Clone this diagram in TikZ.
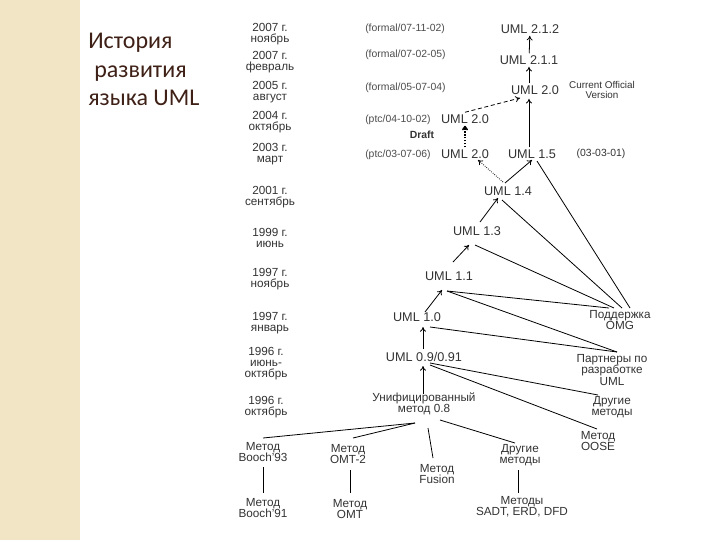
\documentclass[tikz,border=0pt]{standalone}
\usepackage{fontspec}
\setmainfont{Liberation Sans}
\newfontfamily\titlefont{Carlito}
\usepackage{tikz}
\usetikzlibrary{arrows.meta,calc}
\definecolor{stripbeige}{RGB}{241,229,198}
\definecolor{titlebrown}{RGB}{62,32,22}

\begin{document}
\begin{tikzpicture}[x=0.75pt,y=-0.75pt,>={To[length=3.5pt,width=4.5pt]},
  lbl/.style={align=center,inner sep=0pt,text=black!80,font=\fontsize{8.8}{8.3}\selectfont},
  uml/.style={inner sep=1.5pt,text=black!80,font=\fontsize{9.5}{10}\selectfont},
  ref/.style={anchor=west,inner sep=0pt,text=black!70,font=\fontsize{7.8}{9}\selectfont},
  link/.style={line width=0.6pt}]
\fill[stripbeige] (0,0) rectangle (80,540);
\fill[white] (80,0) rectangle (720,540);
\useasboundingbox (0,0) rectangle (720,540);
\node[anchor=north west,align=left,inner sep=0pt,text=titlebrown,
  font=\titlefont\fontsize{18}{21.4}\selectfont] (title) at (88,33)
  {История\\\hspace{0.25em}развития\\языка UML};
\node[lbl] (dNov07) at (270,34.5) {2007 г.\\ноябрь};
\node[lbl] (dFeb07) at (270,62) {2007 г.\\февраль};
\node[lbl] (dAug05) at (270,92) {2005 г.\\август};
\node[lbl] (dOct04) at (270,122) {2004 г.\\октябрь};
\node[lbl] (dMar03) at (270,154) {2003 г.\\март};
\node[lbl] (dSep01) at (270,197.5) {2001 г.\\сентябрь};
\node[lbl] (dJun99) at (270,238) {1999 г.\\июнь};
\node[lbl] (dNov97) at (270,279) {1997 г.\\ноябрь};
\node[lbl] (dJan97) at (270,323) {1997 г.\\январь};
\node[lbl] (dJun96) at (266,364) {1996 г.\\июнь-\\октябрь};
\node[lbl] (dOct96) at (266,407) {1996 г.\\октябрь};
\node[ref] (rNov07) at (365,28.5) {(formal/07-11-02)};
\node[ref] (rFeb07) at (365,55) {(formal/07-02-05)};
\node[ref] (rAug05) at (365,88) {(formal/05-07-04)};
\node[ref] (rOct04) at (365,120) {(ptc/04-10-02)};
\node[ref] (rMar03) at (365,155) {(ptc/03-07-06)};
\node[uml] (u212) at (530,29) {UML 2.1.2};
\node[uml] (u211) at (529,60) {UML 2.1.1};
\node[uml] (u20) at (535,90) {UML 2.0};
\node[lbl,font=\fontsize{7.4}{7.5}\selectfont] (cur) at (602,90) {Current Official\\Version};
\node[uml] (u20d) at (465,119) {UML 2.0};
\node[lbl,font=\bfseries\fontsize{7.8}{9}\selectfont] (draft) at (422,135) {Draft};
\node[uml] (u20b) at (465,154) {UML 2.0};
\node[uml] (u15) at (532,154) {UML 1.5};
\node[lbl,font=\fontsize{7.8}{9}\selectfont] (r0303) at (601,154) {(03-03-01)};
\node[uml] (u14) at (508,191) {UML 1.4};
\node[uml] (u13) at (477,231) {UML 1.3};
\node[uml] (u11) at (449,276) {UML 1.1};
\node[uml] (u10) at (417,317) {UML 1.0};
\node[uml] (u09) at (424,357) {UML 0.9/0.91};
\node[lbl] (um08) at (424,404) {Унифицированный\\метод 0.8};
\node[lbl] (omg) at (620,320) {Поддержка\\OMG};
\node[lbl] (partn) at (612,370) {Партнеры по\\разработке\\UML};
\node[lbl] (othR) at (612,407) {Другие\\методы};
\node[lbl] (oose) at (598,441) {Метод\\OOSE};
\node[lbl] (booch93) at (263,452) {Метод\\Booch'93};
\node[lbl] (omt2) at (348,454) {Метод\\OMT-2};
\node[lbl] (fusion) at (437,474) {Метод\\Fusion};
\node[lbl] (othM) at (520,455) {Другие\\методы};
\node[lbl] (booch91) at (263,508) {Метод\\Booch'91};
\node[lbl] (omt) at (350,509) {Метод\\OMT};
\node[lbl] (sadt) at (522,507) {Методы\\SADT, ERD, DFD};
\draw[link,->] (u211) -- (u212);
\draw[link,->] ($(u20.north)+(-6,0)$) -- (u211.south);
\draw[link,->] ($(u15.north)+(-3,0)$) -- ($(u20.south)+(-6,2)$);
\draw[line width=1.2pt,densely dotted,->] (u20b.north) -- (u20d.south);
\draw[link,densely dashed,->] (u20d.north) -- ($(u20)+(-15,8)$);
\draw[link,densely dotted,->] ($(u14)+(-5,-9)$) -- ($(u20b)+(13,6)$);
\draw[link,->] ($(u14)+(-3,-8)$) -- ($(u15)+(0,6)$);
\draw[link,->] ($(u13)+(3,-9)$) -- ($(u14)+(-10,7)$);
\draw[link,->] ($(u11)+(4,-14)$) -- ($(u13)+(-8,14)$);
\draw[link,->] ($(u10)+(8,-5)$) -- ($(u11)+(-7,14)$);
\draw[link,->] ($(u09)+(-1,-8)$) -- ($(u10)+(6,10)$);
\draw[link,->] ($(um08)+(-1,-10)$) -- ($(u09)+(-1,9)$);
\draw[link] ($(u15)+(5,7)$) -- ($(omg)+(10,-12)$);
\draw[link] ($(u14)+(-6,9)$) -- ($(omg)+(2,-12)$);
\draw[link] ($(u13)+(-2,14)$) -- ($(omg)+(-6,-12)$);
\draw[link] ($(u11)+(-2,15)$) -- ($(omg)+(-11,-12)$);
\draw[link] ($(u11)+(-2,15)$) -- ($(partn)+(5,-18)$);
\draw[link] ($(u10)+(13,10)$) -- ($(partn)+(5,-18)$);
\draw[link] ($(u09)+(6,6)$) -- ($(othR)+(-14,-12)$);
\draw[link] ($(u09)+(6,8)$) -- ($(oose)+(-1,-12)$);
\draw[link] ($(um08)+(16,16)$) -- ($(othM)+(-5,-12)$);
\draw[link] ($(um08)+(-9,19)$) -- ($(booch93)+(0,-14)$);
\draw[link] ($(um08)+(-9,19)$) -- ($(omt2)+(5,-16)$);
\draw[link] ($(um08)+(4,24)$) -- ($(fusion)+(-4,-16)$);
\draw[link] ($(booch93)+(0,15)$) -- ($(booch91)+(0,-15)$);
\draw[link] ($(omt2)+(2,16)$) -- ($(omt)+(0,-16)$);
\draw[link] ($(othM)+(-2,15)$) -- ($(sadt)+(-4,-14)$);
\end{tikzpicture}
\end{document}
